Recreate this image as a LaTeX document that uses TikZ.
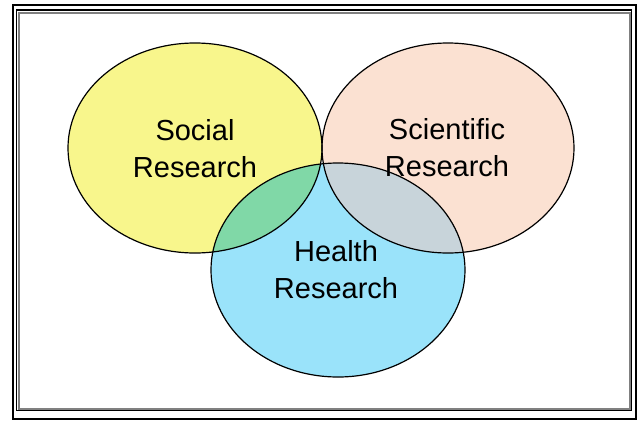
\documentclass[tikz,border=0pt]{standalone}
\usepackage{fontspec}
\setmainfont{Liberation Sans}

\definecolor{socialfill}{HTML}{F8F68C}
\definecolor{sciencefill}{HTML}{FBE1D2}
\definecolor{healthfill}{HTML}{9AE3FA}
\definecolor{socialhealth}{HTML}{80D8A7}
\definecolor{sciencehealth}{HTML}{C8D4DA}

\begin{document}
\begin{tikzpicture}[x=1pt, y=-1pt,
	rim/.style={line width=1.2pt, draw=black},
	lbl/.style={align=center, inner sep=0pt, font=\fontsize{29}{37}\selectfont}]

\def\rx{127pt}
\def\ry{105pt}

\path [use as bounding box] (0,0) rectangle (638,421);

% FRAME
\fill [white] (13,5) rectangle (636,419);
\draw [line width=2pt] (13,5) rectangle (636,419);
\draw [line width=1.5pt] (16.5,10) rectangle (631.5,410.5);
\draw [line width=2pt, gray] (18.5,12.5) rectangle (629.5,408.5);

% SETS
\fill [socialfill] (195,148) ellipse [x radius=\rx, y radius=\ry];
\fill [sciencefill] (448,148) ellipse [x radius=126pt, y radius=\ry];
\fill [healthfill] (338,270) ellipse [x radius=\rx, y radius=107pt];

% OVERLAPS
\begin{scope}
	\clip (338,270) ellipse [x radius=\rx, y radius=107pt];
	\fill [socialhealth] (195,148) ellipse [x radius=\rx, y radius=\ry];
	\fill [sciencehealth] (448,148) ellipse [x radius=126pt, y radius=\ry];
\end{scope}

% OUTLINES
\draw [rim] (195,148) ellipse [x radius=\rx, y radius=\ry];
\draw [rim] (448,148) ellipse [x radius=126pt, y radius=\ry];
\draw [rim] (338,270) ellipse [x radius=\rx, y radius=107pt];

% LABELS
\node [lbl] (social) at (195,149) {Social\\Research};
\node [lbl] (scientific) at (447,148) {Scientific\\Research};
\node [lbl] (health) at (336,270) {Health\\Research};

\end{tikzpicture}
\end{document}
